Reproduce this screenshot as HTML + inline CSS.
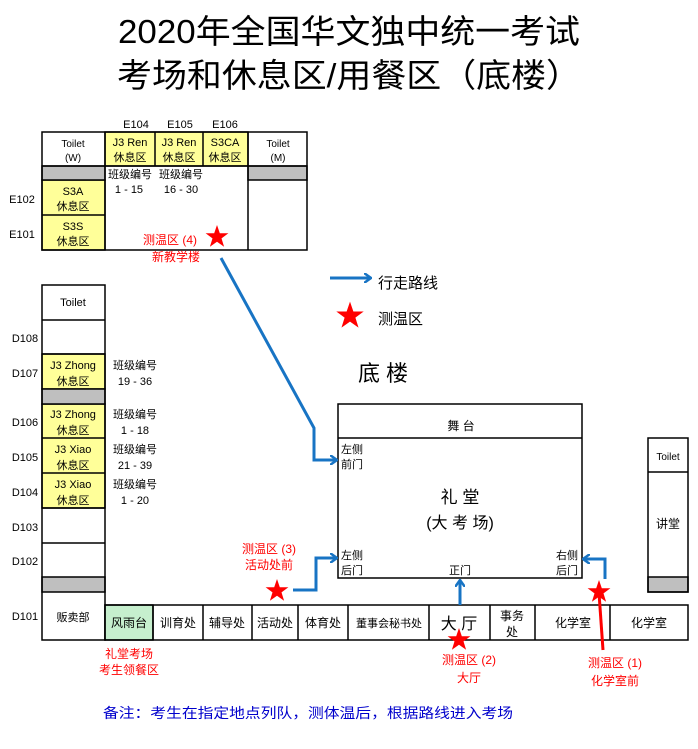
<!DOCTYPE html>
<html><head><meta charset="utf-8"><style>
html,body{margin:0;padding:0;background:#fff;}
svg text{font-family:"Liberation Sans","Noto Sans CJK SC",sans-serif;}
</style></head><body>
<svg width="698" height="744" viewBox="0 0 698 744" xmlns="http://www.w3.org/2000/svg">
<defs>
<marker id="ah" markerWidth="8" markerHeight="10" refX="6" refY="5" orient="auto" markerUnits="userSpaceOnUse"><path d="M0,0 L7,5 L0,10" fill="none" stroke="#1874c4" stroke-width="2.5"/></marker>
<polygon id="star" points="0,-12 2.8,-3.8 11.4,-3.7 4.5,1.4 7.1,9.7 0,4.7 -7.1,9.7 -4.5,1.4 -11.4,-3.7 -2.8,-3.8" fill="#ff0000"/>
</defs>
<g font-size="33" text-anchor="middle" fill="#000">
<text x="349" y="43" textLength="462" lengthAdjust="spacingAndGlyphs">2020年全国华文独中统一考试</text>
<text x="349" y="87" textLength="464" lengthAdjust="spacingAndGlyphs">考场和休息区/用餐区（底楼）</text>
</g>
<!-- top block -->
<g stroke="#000" stroke-width="1.5">
<rect x="105" y="132" width="143" height="34" fill="#ffff99"/>
<rect x="42" y="180" width="63" height="70" fill="#ffff99"/>
<rect x="42" y="166" width="63" height="14" fill="#bfbfbf"/>
<rect x="248" y="166" width="59" height="14" fill="#bfbfbf"/>
<rect x="42" y="132" width="265" height="118" fill="none"/>
<line x1="42" y1="166" x2="307" y2="166"/>
<line x1="105" y1="132" x2="105" y2="250"/>
<line x1="155" y1="132" x2="155" y2="166"/>
<line x1="203" y1="132" x2="203" y2="166"/>
<line x1="248" y1="132" x2="248" y2="250"/>
<line x1="42" y1="215" x2="105" y2="215"/>
</g>
<g font-size="11" text-anchor="middle">
<text x="136" y="128">E104</text><text x="180" y="128">E105</text><text x="225" y="128">E106</text>
<text x="73" y="147" font-size="10">Toilet</text><text x="73" y="161" font-size="10">(W)</text>
<text x="278" y="147" font-size="10">Toilet</text><text x="278" y="161" font-size="10">(M)</text>
<text x="130" y="146">J3 Ren</text><text x="130" y="161">休息区</text>
<text x="179" y="146">J3 Ren</text><text x="179" y="161">休息区</text>
<text x="225" y="146">S3CA</text><text x="225" y="161">休息区</text>
<text x="73" y="195">S3A</text><text x="73" y="210">休息区</text>
<text x="73" y="230">S3S</text><text x="73" y="245">休息区</text>
<text x="130" y="178">班级编号</text><text x="129" y="193">1 - 15</text>
<text x="181" y="178">班级编号</text><text x="181" y="193">16 - 30</text>
<text x="22" y="203" font-size="11">E102</text><text x="22" y="238">E101</text>
<g fill="#ff0000" font-size="12"><text x="170" y="244">测温区 (4)</text><text x="176" y="261">新教学楼</text></g>
</g>
<!-- left column -->
<g stroke="#000" stroke-width="1.5">
<rect x="42" y="354" width="63" height="35" fill="#ffff99"/>
<rect x="42" y="404" width="63" height="104" fill="#ffff99"/>
<rect x="42" y="389" width="63" height="15" fill="#bfbfbf"/>
<rect x="42" y="577" width="63" height="15" fill="#bfbfbf"/>
<rect x="42" y="285" width="63" height="355" fill="none"/>
<line x1="42" y1="320" x2="105" y2="320"/><line x1="42" y1="354" x2="105" y2="354"/>
<line x1="42" y1="438" x2="105" y2="438"/><line x1="42" y1="473" x2="105" y2="473"/>
<line x1="42" y1="508" x2="105" y2="508"/><line x1="42" y1="543" x2="105" y2="543"/>
</g>
<g font-size="11" text-anchor="middle">
<text x="73" y="306">Toilet</text>
<text x="73" y="369">J3 Zhong</text><text x="73" y="385">休息区</text>
<text x="73" y="418">J3 Zhong</text><text x="73" y="434">休息区</text>
<text x="73" y="453">J3 Xiao</text><text x="73" y="469">休息区</text>
<text x="73" y="488">J3 Xiao</text><text x="73" y="504">休息区</text>
<text x="73" y="621">贩卖部</text>
<text x="25" y="342">D108</text><text x="25" y="377">D107</text><text x="25" y="426">D106</text>
<text x="25" y="461">D105</text><text x="25" y="496">D104</text><text x="25" y="531">D103</text>
<text x="25" y="565">D102</text><text x="25" y="620">D101</text>
<text x="135" y="369">班级编号</text><text x="135" y="385">19  - 36</text>
<text x="135" y="418">班级编号</text><text x="135" y="434">1 - 18</text>
<text x="135" y="453">班级编号</text><text x="135" y="469">21  - 39</text>
<text x="135" y="488">班级编号</text><text x="135" y="504">1 - 20</text>
</g>
<!-- bottom row -->
<g stroke="#000" stroke-width="1.5">
<rect x="105" y="605" width="48" height="35" fill="#c6efce"/>
<rect x="105" y="605" width="583" height="35" fill="none"/>
<line x1="153" y1="605" x2="153" y2="640"/><line x1="203" y1="605" x2="203" y2="640"/>
<line x1="252" y1="605" x2="252" y2="640"/><line x1="298" y1="605" x2="298" y2="640"/>
<line x1="348" y1="605" x2="348" y2="640"/><line x1="429" y1="605" x2="429" y2="640"/>
<line x1="490" y1="605" x2="490" y2="640"/><line x1="535" y1="605" x2="535" y2="640"/>
<line x1="610" y1="605" x2="610" y2="640"/>
</g>
<g font-size="12" text-anchor="middle">
<text x="129" y="627">风雨台</text><text x="178" y="627">训育处</text><text x="227" y="627">辅导处</text>
<text x="275" y="627">活动处</text><text x="323" y="627">体育处</text><text x="389" y="627" font-size="11">董事会秘书处</text>
<text x="459" y="629" font-size="16">大  厅</text>
<text x="512" y="620">事务</text><text x="512" y="636">处</text>
<text x="573" y="627">化学室</text><text x="649" y="627">化学室</text>
<g fill="#ff0000"><text x="129" y="658">礼堂考场</text><text x="129" y="674">考生领餐区</text>
<text x="269" y="553">测温区 (3)</text><text x="269" y="569">活动处前</text>
<text x="469" y="664">测温区 (2)</text><text x="469" y="682">大厅</text>
<text x="615" y="667">测温区 (1)</text><text x="615" y="685">化学室前</text></g>
<text x="308" y="718" fill="#0000cc" font-size="14" textLength="410" lengthAdjust="spacingAndGlyphs">备注：考生在指定地点列队，测体温后，根据路线进入考场</text>
</g>
<!-- auditorium -->
<g stroke="#000" stroke-width="1.5" fill="none">
<rect x="338" y="404" width="244" height="174"/>
<line x1="338" y1="438" x2="582" y2="438"/>
<rect x="648" y="577" width="40" height="15" fill="#bfbfbf"/>
<rect x="648" y="438" width="40" height="154"/>
<line x1="648" y1="472" x2="688" y2="472"/>
</g>
<g font-size="11">
<text x="461" y="430" text-anchor="middle" font-size="12">舞 台</text>
<text x="341" y="453">左侧</text><text x="341" y="468">前门</text>
<text x="341" y="559">左侧</text><text x="341" y="574">后门</text>
<text x="556" y="559">右侧</text><text x="556" y="574">后门</text>
<text x="460" y="574" text-anchor="middle">正门</text>
<text x="460" y="503" text-anchor="middle" font-size="17">礼  堂</text>
<text x="460" y="528" text-anchor="middle" font-size="16">(大 考 场)</text>
<text x="668" y="460" text-anchor="middle" font-size="10">Toilet</text>
<text x="668" y="528" text-anchor="middle" font-size="12">讲堂</text>
<text x="383" y="381" text-anchor="middle" font-size="22">底  楼</text>
<text x="378" y="288" font-size="15">行走路线</text>
<text x="378" y="324" font-size="15">测温区</text>
</g>
<!-- arrows -->
<g stroke="#1874c4" stroke-width="3" fill="none" marker-end="url(#ah)">
<line x1="330" y1="278" x2="370" y2="278"/>
<polyline points="221,258 314,428 314,460 336,460"/>
<polyline points="293,590 316,590 316,558 336,558"/>
<line x1="460" y1="605" x2="460" y2="581"/>
<polyline points="605,579 605,559 584,559"/>
</g>
<line x1="599" y1="593" x2="603" y2="650" stroke="#ff0000" stroke-width="3"/>
<use href="#star" transform="translate(217,237)"/>
<use href="#star" transform="translate(350,316) scale(1.2)"/>
<use href="#star" transform="translate(277,591)"/>
<use href="#star" transform="translate(459,640)"/>
<use href="#star" transform="translate(599,592)"/>
</svg>
</body></html>
